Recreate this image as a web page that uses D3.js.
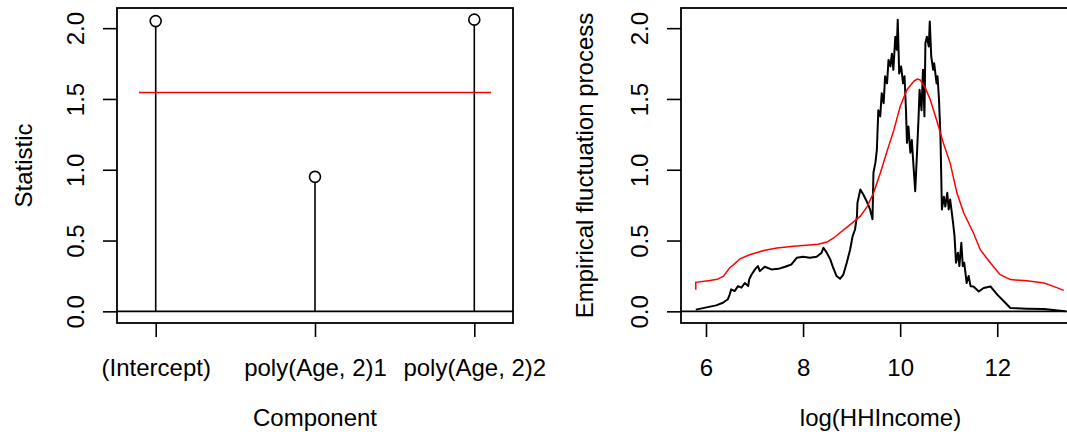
<!DOCTYPE html>
<html>
<head>
<meta charset="utf-8">
<script src="https://cdn.jsdelivr.net/npm/d3@7"></script>
<style>
  body { margin: 0; background: #fff; }
  svg { display: block; }
  text { font-family: "Liberation Sans", Arial, Helvetica, sans-serif; font-size: 24px; fill: #000; }
</style>
</head>
<body>
<div id="chart"></div>
<script>
// left panel: component statistics
const components = ["(Intercept)", "poly(Age, 2)1", "poly(Age, 2)2"];
const statistic = [2.05, 0.95, 2.06];
const critical = 1.546;
const criticalSpan = [0.895, 3.105];

// right panel: empirical fluctuation process vs log(HHIncome)
const procX = [5.79, 6.21, 6.35, 6.45, 6.49, 6.52, 6.59, 6.66, 6.73, 6.80, 6.87, 6.89, 6.94, 7.01, 7.07, 7.11,
  7.21, 7.35, 7.49, 7.63, 7.76, 7.87, 8.0, 8.14, 8.28, 8.38, 8.42, 8.49, 8.56, 8.62, 8.69, 8.76, 8.83, 8.90,
  8.97, 9.02, 9.07, 9.11, 9.12, 9.18, 9.24, 9.31, 9.38, 9.43, 9.45, 9.49, 9.52, 9.55, 9.59, 9.62, 9.66, 9.69,
  9.73, 9.76, 9.80, 9.83, 9.86, 9.90, 9.93, 9.95, 9.98, 10.02, 10.06, 10.09, 10.12, 10.14, 10.17, 10.21, 10.24,
  10.28, 10.31, 10.35, 10.38, 10.40, 10.44, 10.47, 10.50, 10.52, 10.55, 10.59, 10.61, 10.64, 10.68, 10.70,
  10.75, 10.77, 10.80, 10.83, 10.86, 10.90, 10.93, 10.97, 11.00, 11.03, 11.09, 11.12, 11.15, 11.19, 11.22,
  11.26, 11.29, 11.32, 11.37, 11.41, 11.45, 11.51, 11.62, 11.72, 11.86, 12.0, 12.14, 12.27, 12.61, 12.96, 13.4];
const procY = [0.012, 0.042, 0.061, 0.085, 0.12, 0.155, 0.143, 0.178, 0.167, 0.2, 0.178, 0.226, 0.26, 0.296, 0.32, 0.284,
  0.315, 0.296, 0.30, 0.315, 0.331, 0.378, 0.385, 0.378, 0.385, 0.413, 0.449, 0.413, 0.367, 0.308, 0.249, 0.23, 0.26, 0.343,
  0.437, 0.53, 0.578, 0.672, 0.766, 0.86, 0.825, 0.778, 0.72, 0.65, 0.98, 1.05, 1.14, 1.42, 1.377, 1.54, 1.47, 1.66,
  1.61, 1.776, 1.73, 1.82, 1.706, 1.94, 1.847, 2.06, 1.68, 1.73, 1.61, 1.66, 1.42, 1.19, 1.306, 1.12, 1.21,
  1.0, 0.848, 1.14, 1.377, 1.565, 1.42, 1.706, 1.377, 1.894, 1.94, 1.87, 2.047, 1.8, 1.706, 1.753,
  1.61, 1.66, 1.494, 1.236, 0.72, 0.81, 0.74, 0.837, 0.72, 0.79, 0.625, 0.53, 0.343, 0.414, 0.32,
  0.484, 0.32, 0.343, 0.2, 0.25, 0.178, 0.176, 0.14, 0.165, 0.176, 0.118, 0.07, 0.024, 0.019, 0.016, 0.0];

const boundX = [5.79, 5.79, 6.08, 6.23, 6.36, 6.49, 6.57, 6.70, 6.90, 7.19, 7.46, 7.81, 8.31, 8.49, 8.63, 8.76,
  8.97, 9.18, 9.32, 9.45, 9.59, 9.73, 9.87, 10.0, 10.14, 10.28, 10.35, 10.41, 10.52, 10.62, 10.76, 10.89,
  11.03, 11.17, 11.31, 11.51, 11.65, 11.86, 12.06, 12.27, 12.61, 12.96, 13.16, 13.37];
const boundY = [0.153, 0.205, 0.218, 0.226, 0.249, 0.308, 0.33, 0.371, 0.40, 0.43, 0.447, 0.459, 0.474, 0.489, 0.518, 0.555,
  0.613, 0.672, 0.74, 0.835, 0.976, 1.13, 1.28, 1.447, 1.565, 1.624, 1.64, 1.635, 1.576, 1.494, 1.341, 1.188,
  1.047, 0.835, 0.694, 0.553, 0.435, 0.341, 0.259, 0.224, 0.216, 0.2, 0.176, 0.148];

const yTicks = [0, 0.5, 1, 1.5, 2];
const xTicksR = [6, 8, 10, 12];

const w = 1067, h = 432;
const plotTop = 8, plotBottom = 323;
const tick = 14;

const svg = d3.select("#chart").append("svg")
  .attr("width", w)
  .attr("height", h);

// y extent like R (4% padding)
const yMax = 2.06, yPad = yMax * 0.04;
const yScale = d3.scaleLinear().domain([-yPad, yMax + yPad]).range([plotBottom, plotTop]);

function yAxis(g, left) {
  g.attr("transform", `translate(${left},0)`)
    .call(d3.axisLeft(yScale).tickValues(yTicks).tickSize(tick).tickFormat(d3.format(".1f")))
    .call(s => s.select(".domain").remove())
    .call(s => s.selectAll("line").attr("stroke", "#000").attr("stroke-width", 1.6));
  g.selectAll("text")
    .attr("transform", "rotate(-90)")
    .attr("x", 0).attr("y", -33).attr("dy", 0)
    .attr("text-anchor", "middle")
    .attr("fill", "#000")
    .style("font-size", "24px");
}

// ---------------- left panel ----------------
const L = { left: 117, right: 513 };
const xL = d3.scaleLinear().domain([0.757, 3.243]).range([L.left, L.right]);

svg.append("line")
  .attr("x1", L.left).attr("x2", L.right)
  .attr("y1", yScale(0)).attr("y2", yScale(0))
  .attr("stroke", "#000").attr("stroke-width", 1.6);

const stems = svg.append("g");
stems.selectAll("line").data(statistic).join("line")
  .attr("x1", (d, i) => xL(i + 1)).attr("x2", (d, i) => xL(i + 1))
  .attr("y1", yScale(0)).attr("y2", d => yScale(d) + 5.5)
  .attr("stroke", "#000").attr("stroke-width", 1.6);
stems.selectAll("circle").data(statistic).join("circle")
  .attr("cx", (d, i) => xL(i + 1)).attr("cy", d => yScale(d))
  .attr("r", 5.5)
  .attr("fill", "none").attr("stroke", "#000").attr("stroke-width", 1.6);

svg.append("line")
  .attr("x1", xL(criticalSpan[0])).attr("x2", xL(criticalSpan[1]))
  .attr("y1", yScale(critical)).attr("y2", yScale(critical))
  .attr("stroke", "#ff0000").attr("stroke-width", 1.5);

svg.append("rect")
  .attr("x", L.left).attr("y", plotTop)
  .attr("width", L.right - L.left).attr("height", plotBottom - plotTop)
  .attr("fill", "none").attr("stroke", "#000").attr("stroke-width", 1.8);

svg.append("g").call(g => yAxis(g, L.left));

const xAxisL = svg.append("g")
  .attr("transform", `translate(0,${plotBottom})`)
  .call(d3.axisBottom(xL).tickValues([1, 2, 3]).tickSize(tick).tickFormat((d, i) => components[i]));
xAxisL.select(".domain").remove();
xAxisL.selectAll("line").attr("stroke", "#000").attr("stroke-width", 1.6);
xAxisL.selectAll("text").attr("y", 53).attr("dy", 0).attr("fill", "#000").style("font-size", "24px");

svg.append("text")
  .attr("x", (L.left + L.right) / 2).attr("y", 426)
  .attr("text-anchor", "middle")
  .text("Component");

svg.append("text")
  .attr("transform", `translate(32,${(plotTop + plotBottom) / 2}) rotate(-90)`)
  .attr("text-anchor", "middle")
  .text("Statistic");

// ---------------- right panel ----------------
const R = { left: 681, right: 1080 };
const xMin = 5.79, xMax = 13.4, xPad = (xMax - xMin) * 0.04;
const xR = d3.scaleLinear().domain([xMin - xPad, xMax + xPad]).range([R.left, R.right]);

svg.append("line")
  .attr("x1", R.left).attr("x2", R.right)
  .attr("y1", yScale(0)).attr("y2", yScale(0))
  .attr("stroke", "#000").attr("stroke-width", 1.6);

const line = d3.line().x(d => xR(d[0])).y(d => yScale(d[1]));

svg.append("path")
  .datum(procX.map((x, i) => [x, procY[i]]))
  .attr("d", line)
  .attr("fill", "none").attr("stroke", "#000").attr("stroke-width", 2)
  .attr("stroke-linejoin", "round");

svg.append("path")
  .datum(boundX.map((x, i) => [x, boundY[i]]))
  .attr("d", line)
  .attr("fill", "none").attr("stroke", "#ff0000").attr("stroke-width", 1.5);

svg.append("rect")
  .attr("x", R.left).attr("y", plotTop)
  .attr("width", R.right - R.left).attr("height", plotBottom - plotTop)
  .attr("fill", "none").attr("stroke", "#000").attr("stroke-width", 1.8);

svg.append("g").call(g => yAxis(g, R.left));

const xAxisR = svg.append("g")
  .attr("transform", `translate(0,${plotBottom})`)
  .call(d3.axisBottom(xR).tickValues(xTicksR).tickSize(tick).tickFormat(d3.format("d")));
xAxisR.select(".domain").remove();
xAxisR.selectAll("line").attr("stroke", "#000").attr("stroke-width", 1.6);
xAxisR.selectAll("text").attr("y", 53).attr("dy", 0).attr("fill", "#000").style("font-size", "24px");

svg.append("text")
  .attr("x", (R.left + R.right) / 2).attr("y", 426)
  .attr("text-anchor", "middle")
  .text("log(HHIncome)");

svg.append("text")
  .attr("transform", `translate(593,${(plotTop + plotBottom) / 2}) rotate(-90)`)
  .attr("text-anchor", "middle")
  .text("Empirical fluctuation process");
</script>
</body>
</html>
